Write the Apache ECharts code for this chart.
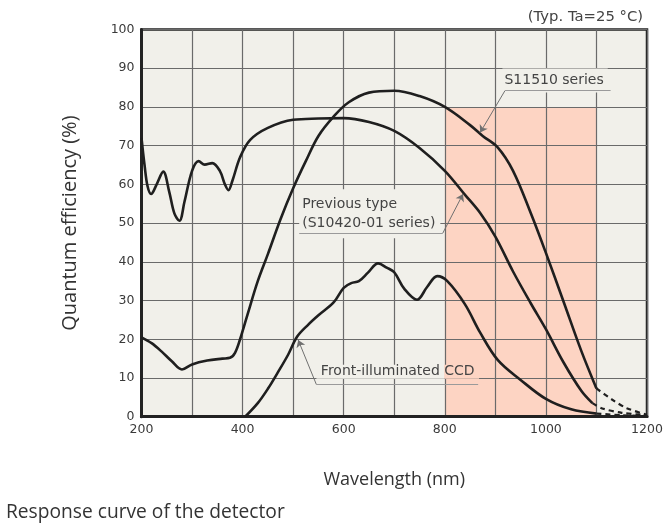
<!DOCTYPE html>
<html>
<head>
<meta charset="utf-8">
<style>
html, body { margin: 0; padding: 0; background: #fff; }
#main { width: 672px; height: 524px; }
</style>
<script src="https://cdn.jsdelivr.net/npm/echarts@6/dist/echarts.min.js"></script>
</head>
<body>
<div id="main"></div>
<script>
// S11510 series (solid part, then the dashed tail past 1100 nm)
var s11510Wl = [200, 220, 240, 260, 280, 300, 330, 360, 375, 385, 395, 410, 430, 450, 475, 500, 525, 550, 580, 610, 650, 700, 750, 800, 850, 875, 905, 935, 970, 1000, 1035, 1070, 1100];
var s11510Qe = [20.5, 19, 16.8, 14.3, 12.2, 13.5, 14.5, 15, 15.2, 16.5, 20, 26.5, 35, 42, 51, 59, 66, 72.5, 77.5, 81.2, 83.7, 84.2, 82.8, 80, 75.3, 72.5, 69.5, 63.5, 52.6, 42.3, 29.7, 17, 7.3];
var s11510TailWl = [1100, 1130, 1160, 1200];
var s11510TailQe = [7.3, 4.5, 2.2, 0.5];

// Previous type (S10420-01 series)
var prevWl = [200, 206, 212, 219, 230, 243, 255, 265, 275, 285, 300, 313, 325, 340, 355, 365, 372, 380, 395, 415, 450, 500, 550, 600, 650, 700, 750, 800, 840, 870, 900, 935, 970, 1000, 1035, 1070, 1092];
var prevQe = [72, 65, 59.5, 57.5, 60, 63.3, 58, 52.5, 50.6, 55.5, 63.5, 66, 65.1, 65.5, 63.5, 60, 58.5, 61, 67, 71.5, 74.6, 76.7, 77, 77.1, 76.1, 73.8, 69.4, 63.5, 57.3, 52.6, 46.5, 37.5, 29.3, 22.6, 14, 6.7, 3.5];
var prevTailWl = [1092, 1110, 1150, 1200];
var prevTailQe = [3.5, 2.2, 1, 0.4];

// Front-illuminated CCD
var ccdWl = [405, 430, 450, 470, 490, 508, 530, 550, 580, 600, 615, 630, 648, 668, 685, 700, 720, 745, 765, 785, 805, 840, 870, 905, 950, 1000, 1050, 1100];
var ccdQe = [0, 3.5, 7.2, 11.5, 16, 20.7, 23.8, 26.2, 29.5, 33.3, 34.5, 35, 37.2, 39.6, 38.5, 37.3, 33, 30.2, 33.5, 36.3, 35, 29, 21.7, 14.6, 9.5, 4.6, 1.9, 0.8];
var ccdTailWl = [1100, 1150, 1200];
var ccdTailQe = [0.8, 0.4, 0.1];

// shaded NIR band
var bandWl = [800, 1100];
var bandQe = [0, 80];

var xTickLabels = [200, 400, 600, 800, 1000, 1200];

function pairs(xs, ys) {
    return xs.map(function (x, i) { return [x, ys[i]]; });
}

var chart = echarts.init(document.getElementById('main'));

var curveStyle = { color: '#1f1f1f', width: 2.6 };
var tailStyle = { color: '#1f1f1f', width: 2.2, type: [5, 4] };
var labelFont = 'DejaVu Sans';
var plotBg = '#f1f0ea';
var bandColor = '#fdd4c3';

function curve(name, xs, ys) {
    return {
        name: name, type: 'line', data: pairs(xs, ys),
        showSymbol: false, smooth: 0.35,
        lineStyle: curveStyle, z: 3, silent: true
    };
}
function tail(name, xs, ys) {
    return {
        name: name, type: 'line', data: pairs(xs, ys),
        showSymbol: false, smooth: 0.3,
        lineStyle: tailStyle, z: 3, silent: true
    };
}

var option = {
    animation: false,
    title: [
        {
            text: 'Response curve of the detector',
            left: 1, top: 498,
            textStyle: { fontFamily: 'Open Sans', fontSize: 19.2, fontWeight: 'normal', color: '#333' }
        },
        {
            text: '(Typ. Ta=25 °C)',
            right: 24, top: 5,
            textStyle: { fontFamily: labelFont, fontSize: 14.8, fontWeight: 'normal', color: '#444' }
        }
    ],
    grid: {
        left: 141.5, right: 25, top: 29.5, bottom: 107.3,
        show: true, backgroundColor: plotBg,
        borderColor: '#222', borderWidth: 2.5
    },
    xAxis: {
        type: 'value', min: 200, max: 1200, interval: 100,
        name: 'Wavelength (nm)', nameLocation: 'middle', nameGap: 54,
        nameTextStyle: { fontFamily: 'Open Sans', fontSize: 18, color: '#333' },
        axisLine: { show: true, onZero: false, lineStyle: { color: '#222', width: 3 } },
        axisTick: { show: false },
        splitLine: { show: true, lineStyle: { color: '#6a6a6a', width: 1.2 } },
        axisLabel: {
            margin: 7, color: '#3a3a3a', fontSize: 12.5, fontFamily: labelFont,
            formatter: function (v) { return xTickLabels.indexOf(v) >= 0 ? String(v) : ''; }
        },
        z: 2
    },
    yAxis: {
        type: 'value', min: 0, max: 100, interval: 10,
        name: 'Quantum efficiency (%)', nameLocation: 'middle', nameGap: 61, nameRotate: 90,
        nameTextStyle: { fontFamily: 'Open Sans', fontSize: 20, color: '#333' },
        axisLine: { show: true, onZero: false, lineStyle: { color: '#222', width: 3 } },
        axisTick: { show: false },
        splitLine: { show: true, lineStyle: { color: '#6a6a6a', width: 1.2 } },
        axisLabel: { margin: 7, color: '#3a3a3a', fontSize: 12.5, fontFamily: labelFont },
        z: 2
    },
    series: [
        {
            name: 'band', type: 'line', data: [], z: 1, silent: true,
            markArea: {
                silent: true, z: 1,
                itemStyle: { color: bandColor },
                data: [[{ xAxis: bandWl[0], yAxis: bandQe[0] }, { xAxis: bandWl[1], yAxis: bandQe[1] }]]
            }
        },
        curve('S11510 series', s11510Wl, s11510Qe),
        tail('S11510 tail', s11510TailWl, s11510TailQe),
        curve('Previous type', prevWl, prevQe),
        tail('Previous tail', prevTailWl, prevTailQe),
        curve('Front-illuminated CCD', ccdWl, ccdQe),
        tail('CCD tail', ccdTailWl, ccdTailQe),
        {
            name: 'notes', type: 'line', data: [], z: 5, silent: true,
            markPoint: {
                silent: true, z: 5, symbol: 'circle', symbolSize: 0,
                data: [
                    {
                        coord: [914, 86.8],
                        label: {
                            show: true, position: 'right', distance: 0,
                            formatter: 'S11510 series',
                            fontFamily: labelFont, fontSize: 14, color: '#444',
                            backgroundColor: plotBg, padding: [3, 4, 7, 2]
                        }
                    },
                    {
                        coord: [512, 52.4],
                        label: {
                            show: true, position: 'right', distance: 0,
                            formatter: 'Previous type\n(S10420-01 series)',
                            fontFamily: labelFont, fontSize: 14, lineHeight: 19, color: '#444',
                            backgroundColor: plotBg, padding: [8, 5, 3, 3]
                        }
                    },
                    {
                        coord: [546, 11.6],
                        label: {
                            show: true, position: 'right', distance: 0,
                            formatter: '{a| Front-illuminated }{b|CCD }',
                            rich: {
                                a: { fontFamily: labelFont, fontSize: 14, color: '#444', lineHeight: 32, backgroundColor: plotBg },
                                b: { fontFamily: labelFont, fontSize: 14, color: '#444', lineHeight: 32, backgroundColor: bandColor }
                            }
                        }
                    }
                ]
            }
        },
        {
            name: 'leaders', type: 'line', data: [], z: 6, silent: true,
            markLine: {
                silent: true, z: 8, symbol: ['none', 'arrow'], symbolSize: 7,
                label: { show: false },
                lineStyle: { color: '#707070', width: 1, type: 'solid' },
                data: [
                    [{ coord: [919, 84.2] }, { coord: [870, 73.4] }],
                    [{ coord: [796, 47.4] }, { coord: [836, 57.5] }],
                    [{ coord: [546, 8.3] }, { coord: [510, 19.8] }]
                ]
            }
        },
        {
            name: 'underlines', type: 'line', data: [], z: 6, silent: true,
            markLine: {
                silent: true, z: 8, symbol: 'none',
                label: { show: false },
                lineStyle: { color: '#9a9a9a', width: 1, type: 'solid' },
                data: [
                    [{ coord: [919, 84.2] }, { coord: [1128, 84.2] }],
                    [{ coord: [512, 47.4] }, { coord: [796, 47.4] }],
                    [{ coord: [546, 8.3] }, { coord: [866, 8.3] }]
                ]
            }
        }
    ]
};

chart.setOption(option);
</script>
</body>
</html>
